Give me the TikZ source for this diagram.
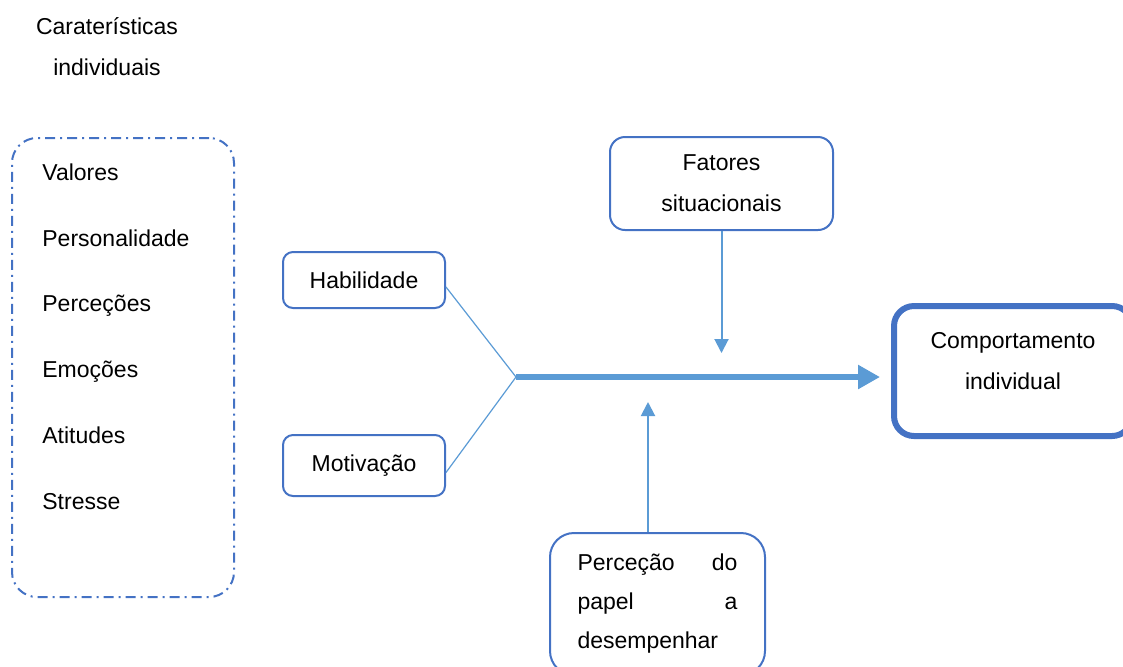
\documentclass[tikz,border=0pt]{standalone}
\usepackage{fontspec}
\setmainfont{Liberation Sans}
\usetikzlibrary{arrows.meta,positioning}
\definecolor{boxblue}{HTML}{4472C4}
\definecolor{arrowblue}{HTML}{5B9BD5}

\begin{document}
\begin{tikzpicture}[
        x=0.5pt, y=-0.5pt,
        every node/.style={font=\fontsize{11.5}{20.5}\selectfont, align=center, inner sep=0pt},
        box/.style={draw=boxblue, line width=1pt, rounded corners=5pt},
        item/.style={anchor=base west, align=left},
        link/.style={draw=arrowblue, line width=0.6pt},
        push/.style={draw=arrowblue, line width=1pt, -{Triangle[length=7pt,width=7pt]}}
    ]
    \useasboundingbox (0,0) rectangle (1123,666);

    % Individual characteristics
    \node (title) at (107,47) {Caraterísticas\\individuais};
    \node[box, rounded corners=12.5pt, dash pattern=on 5pt off 2.5pt on 1pt off 2.5pt,
          minimum width=111pt, minimum height=229.5pt] (chars) at (123,367.5) {};
    \node[item] (valores) at (42,180) {Valores};
    \node[item] (personalidade) at (42,246) {Personalidade};
    \node[item] (percecoes) at (42,311) {Perceções};
    \node[item] (emocoes) at (42,377) {Emoções};
    \node[item] (atitudes) at (42,443) {Atitudes};
    \node[item] (stresse) at (42,509) {Stresse};

    % Inputs
    \node[box, minimum width=81pt, minimum height=28pt] (hab) at (364,280) {Habilidade};
    \node[box, minimum width=81pt, minimum height=30.5pt] (mot) at (364,465.5) {Motivação};
    \node[box, rounded corners=7.5pt, minimum width=111.5pt, minimum height=46.5pt] (fat) at (721.5,183.5) {Fatores\\situacionais};
    \node[box, rounded corners=12pt, minimum width=107.5pt, minimum height=71pt] (per) at (657.5,604)
        {\parbox{80pt}{\raggedright\fontsize{11.5}{19.5}\selectfont Perceção\hfill do\\papel\hfill a\\desempenhar}};

    % Outcome
    \node[box, line width=3pt, rounded corners=10pt, minimum width=119pt, minimum height=65pt] (comp) at (1013,371) {};
    \node (compt) at (1013,361) {Comportamento\\individual};

    \coordinate (junc) at (516,377);
    \coordinate (fatEnd) at (721.5,353);
    \coordinate (perEnd) at (648,402);

    % Edges
    \draw[link] ([yshift=-3.5pt]hab.east) -- (junc);
    \draw[link] ([yshift=-3.5pt]mot.east) -- (junc);
    \draw[draw=arrowblue, line width=3pt, -{Triangle[length=11pt,width=11.5pt]}, shorten >=5.5pt] (junc) -- (junc -| comp.west);
    \draw[push] (fat) -- (fatEnd);
    \draw[push] (perEnd |- per.north) -- (perEnd);

\end{tikzpicture}
\end{document}
